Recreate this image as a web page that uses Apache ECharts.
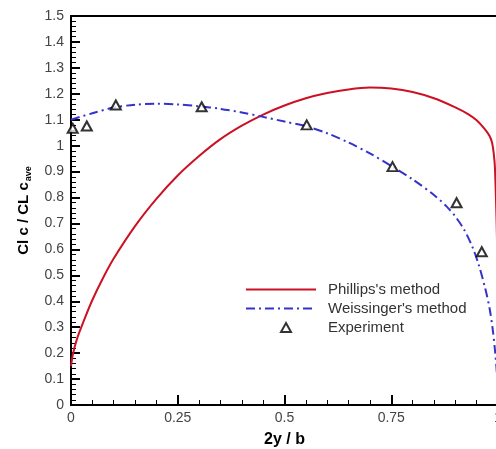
<!DOCTYPE html>
<html>
<head>
<meta charset="utf-8">
<script src="https://cdn.jsdelivr.net/npm/echarts@6/dist/echarts.min.js"></script>
<style>
  html, body { margin: 0; padding: 0; background: #fff; }
  #chart { width: 496px; height: 449px; }
</style>
</head>
<body>
<div id="chart"></div>
<script>
// Spanwise lift distribution: 2y/b against Cl c / CL c_ave
const phillipsX = [0, 0.005, 0.015, 0.03, 0.05, 0.075, 0.1, 0.15, 0.2, 0.25, 0.3, 0.35, 0.4, 0.45, 0.5, 0.55, 0.6, 0.65, 0.7, 0.75, 0.8, 0.85, 0.9, 0.93, 0.95, 0.97, 0.98, 0.986, 0.99, 0.993, 0.998, 1.0];
const phillipsY = [0.15, 0.20, 0.26, 0.325, 0.405, 0.49, 0.565, 0.69, 0.795, 0.885, 0.96, 1.025, 1.077, 1.12, 1.155, 1.183, 1.203, 1.217, 1.224, 1.220, 1.207, 1.183, 1.148, 1.122, 1.098, 1.062, 1.038, 1.012, 0.97, 0.91, 0.6, 0.15];

const weissingerX = [0, 0.05, 0.1, 0.15, 0.2, 0.25, 0.3, 0.35, 0.4, 0.45, 0.5, 0.55, 0.6, 0.65, 0.7, 0.75, 0.8, 0.85, 0.88, 0.9, 0.92, 0.94, 0.955, 0.97, 0.98, 0.987, 0.993, 0.997, 1.0];
const weissingerY = [1.10, 1.125, 1.147, 1.158, 1.162, 1.159, 1.152, 1.142, 1.128, 1.111, 1.093, 1.075, 1.048, 1.012, 0.97, 0.922, 0.87, 0.81, 0.765, 0.727, 0.678, 0.61, 0.54, 0.45, 0.375, 0.30, 0.21, 0.13, 0.0];

const experimentX = [0.004, 0.037, 0.105, 0.306, 0.552, 0.753, 0.903, 0.962];
const experimentY = [1.067, 1.076, 1.157, 1.15, 1.08, 0.919, 0.78, 0.591];

const seriesNames = ["Phillips's method", "Weissinger's method", 'Experiment'];

const zip = (xs, ys) => xs.map((x, i) => [x, ys[i]]);

const font = 'Liberation Sans, Arial, sans-serif';
const chart = echarts.init(document.getElementById('chart'), null, { renderer: 'canvas' });

chart.setOption({
  backgroundColor: '#fff',
  animation: false,
  grid: {
    left: 71, right: -2, top: 16, bottom: 44,
    outerBoundsMode: 'none', containLabel: false,
    show: true, borderColor: '#000', borderWidth: 2, backgroundColor: 'transparent'
  },
  legend: [
    {
      data: [seriesNames[0], seriesNames[1]],
      orient: 'vertical',
      left: 240, top: 277,
      itemWidth: 70, itemHeight: 15, itemGap: 4,
      itemStyle: { opacity: 0 },
      textStyle: { fontFamily: font, fontSize: 15, color: '#333', padding: [0, 0, 0, 7] }
    },
    {
      data: [{ name: seriesNames[2], icon: 'triangle' }],
      orient: 'vertical',
      left: 275, top: 315,
      itemWidth: 10, itemHeight: 9,
      itemStyle: { color: '#fff', borderColor: '#000', borderWidth: 2 },
      textStyle: { fontFamily: font, fontSize: 15, color: '#333', padding: [0, 0, 0, 32] }
    }
  ],
  xAxis: {
    type: 'value', min: 0, max: 1, interval: 0.25,
    name: '2y / b', nameLocation: 'middle', nameGap: 27,
    nameTextStyle: { fontFamily: font, fontSize: 16, fontWeight: 'bold', color: '#000' },
    axisLine: { onZero: false, lineStyle: { color: '#000', width: 2 } },
    axisTick: { inside: true, length: 10, lineStyle: { color: '#000', width: 2 } },
    minorTick: { show: true, splitNumber: 5, length: 5, lineStyle: { color: '#000', width: 1 } },
    axisLabel: { fontFamily: font, fontSize: 14, color: '#444', margin: 6 },
    splitLine: { show: false }
  },
  yAxis: {
    type: 'value', min: 0, max: 1.5, interval: 0.1,
    name: 'Cl c / CL c{sub|ave}', nameLocation: 'middle', nameGap: 38, nameRotate: 90,
    nameTextStyle: {
      fontFamily: font, fontSize: 15, fontWeight: 'bold', color: '#000',
      rich: { sub: { fontFamily: font, fontSize: 9, fontWeight: 'bold', color: '#000', padding: [9, 0, 0, 1] } }
    },
    axisLine: { onZero: false, lineStyle: { color: '#000', width: 2 } },
    axisTick: { inside: true, length: 9, lineStyle: { color: '#000', width: 2 } },
    minorTick: { show: true, splitNumber: 5, length: 5, lineStyle: { color: '#000', width: 1 } },
    axisLabel: { fontFamily: font, fontSize: 14, color: '#444', margin: 7 },
    splitLine: { show: false }
  },
  series: [
    {
      name: seriesNames[0], type: 'line', data: zip(phillipsX, phillipsY),
      showSymbol: false, symbol: 'none', smooth: 0.3,
      lineStyle: { color: '#cc1122', width: 2 }, itemStyle: { color: '#cc1122' }, z: 3
    },
    {
      name: seriesNames[1], type: 'line', data: zip(weissingerX, weissingerY),
      showSymbol: false, symbol: 'none', smooth: 0.3,
      lineStyle: { color: '#3333cc', width: 2, type: [9, 4, 2, 4] }, itemStyle: { color: '#3333cc' }, z: 3
    },
    {
      name: seriesNames[2], type: 'scatter', data: zip(experimentX, experimentY),
      symbol: 'triangle', symbolSize: [10, 9],
      itemStyle: { color: '#fff', borderColor: '#000', borderWidth: 2 }, z: 4
    }
  ]
});
</script>
</body>
</html>
